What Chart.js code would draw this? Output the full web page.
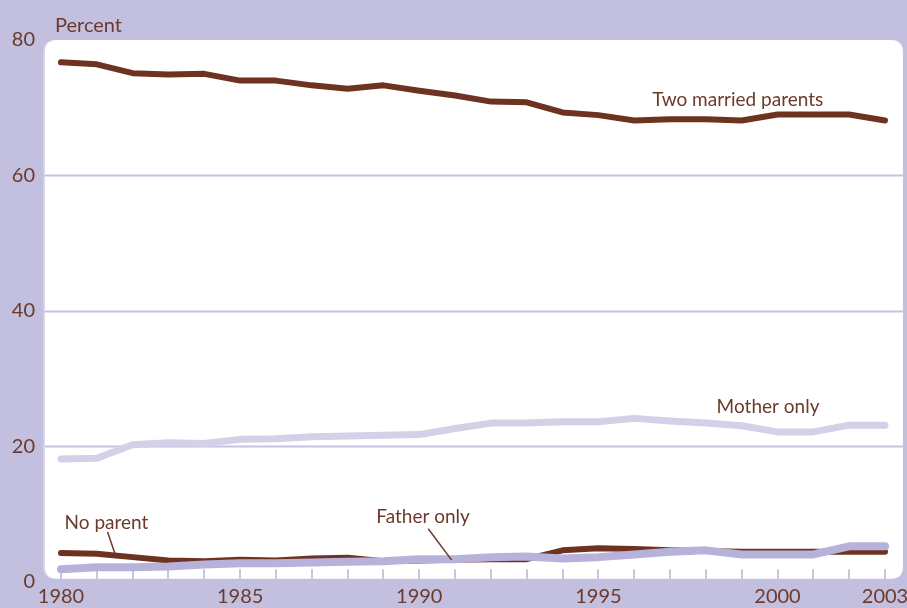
<!DOCTYPE html>
<html>
<head>
<meta charset="utf-8">
<script src="https://cdn.jsdelivr.net/npm/chart.js@4.4.1/dist/chart.umd.min.js"></script>
<style>
  html, body { margin: 0; padding: 0; background: #c3bfdf; }
  #wrap { width: 907px; height: 608px; position: relative; }
</style>
</head>
<body>
<div id="wrap"><canvas id="c" width="907" height="608"></canvas></div>
<script>
const years = [1980,1981,1982,1983,1984,1985,1986,1987,1988,1989,1990,1991,1992,1993,1994,1995,1996,1997,1998,1999,2000,2001,2002,2003];
const twoMarriedParents = [76.7,76.4,75.1,74.9,75.0,74.0,74.0,73.3,72.8,73.3,72.5,71.8,70.9,70.8,69.3,68.9,68.1,68.3,68.3,68.1,69.0,69.0,69.0,68.1];
const motherOnly = [18.1,18.2,20.2,20.5,20.4,21.0,21.1,21.4,21.5,21.6,21.7,22.6,23.4,23.4,23.6,23.6,24.1,23.7,23.4,23.0,22.1,22.1,23.1,23.1];
const fatherOnly = [1.8,2.1,2.1,2.2,2.5,2.7,2.7,2.8,2.9,3.0,3.3,3.3,3.6,3.7,3.4,3.6,4.0,4.4,4.6,4.0,4.0,4.0,5.2,5.2];
const noParent = [4.2,4.1,3.6,3.1,3.0,3.2,3.1,3.4,3.5,3.0,3.1,3.2,3.3,3.3,4.6,4.9,4.8,4.6,4.5,4.4,4.4,4.4,4.4,4.4];
const yTicks = [0,20,40,60,80];
const xTickLabels = [1980,1985,1990,1995,2000,2003];

const BROWN = '#6e3320';
const TEXT = '#6b3a2c';
const BG = '#c3bfdf';
const GRID = '#c6c2e2';
const FATHER = '#b7b2da';
const MOTHER = '#d4d0e8';
const FONT = 'Lato, "Open Sans", sans-serif';

const pts = arr => arr.map((v, i) => ({x: years[i], y: v}));

function roundRect(ctx, x, y, w, h, r) {
  ctx.beginPath();
  ctx.moveTo(x + r, y);
  ctx.lineTo(x + w - r, y);
  ctx.quadraticCurveTo(x + w, y, x + w, y + r);
  ctx.lineTo(x + w, y + h - r);
  ctx.quadraticCurveTo(x + w, y + h, x + w - r, y + h);
  ctx.lineTo(x + r, y + h);
  ctx.quadraticCurveTo(x, y + h, x, y + h - r);
  ctx.lineTo(x, y + r);
  ctx.quadraticCurveTo(x, y, x + r, y);
  ctx.closePath();
}

const panelPlugin = {
  id: 'panel',
  beforeDraw(chart) {
    const ctx = chart.ctx;
    const xs = chart.scales.x, ys = chart.scales.y;
    ctx.save();
    ctx.fillStyle = BG;
    ctx.fillRect(0, 0, chart.width, chart.height);
    const left = xs.getPixelForValue(1979.55);
    const right = xs.getPixelForValue(2003.5);
    const top = ys.getPixelForValue(80);
    const bottom = ys.getPixelForValue(0.4);
    ctx.fillStyle = '#d3cfea';
    roundRect(ctx, left - 2, top, right - left + 2, bottom - top, 12);
    ctx.fill();
    ctx.fillStyle = '#ffffff';
    roundRect(ctx, left, top, right - left, bottom - top, 12);
    ctx.fill();
    ctx.strokeStyle = GRID;
    ctx.lineWidth = 2;
    [20, 40, 60].forEach(v => {
      const y = Math.round(ys.getPixelForValue(v)) + 0.5;
      ctx.beginPath();
      ctx.moveTo(left, y);
      ctx.lineTo(right, y);
      ctx.stroke();
    });
    ctx.strokeStyle = '#c8c4e3';
    ctx.lineWidth = 2;
    years.forEach(yr => {
      const x = Math.round(xs.getPixelForValue(yr));
      ctx.beginPath();
      ctx.moveTo(x, ys.getPixelForValue(1.8));
      ctx.lineTo(x, bottom);
      ctx.stroke();
    });
    ctx.restore();
  },
  afterDraw(chart) {
    const ctx = chart.ctx;
    const xs = chart.scales.x, ys = chart.scales.y;
    ctx.save();
    ctx.fillStyle = TEXT;
    ctx.textBaseline = 'alphabetic';
    ctx.textAlign = 'left';
    ctx.font = '20px ' + FONT;
    ctx.fillText('Percent', 55, 32);
    ctx.font = '19px ' + FONT;
    ctx.fillText('Two married parents', xs.getPixelForValue(1996.5), ys.getPixelForValue(70.3));
    ctx.fillText('Mother only', xs.getPixelForValue(1998.3), ys.getPixelForValue(24.9));
    ctx.fillText('No parent', xs.getPixelForValue(1980.1), ys.getPixelForValue(7.8));
    ctx.fillText('Father only', xs.getPixelForValue(1988.8), ys.getPixelForValue(8.6));
    ctx.strokeStyle = TEXT;
    ctx.lineWidth = 1.5;
    ctx.beginPath();
    ctx.moveTo(xs.getPixelForValue(1981.3), ys.getPixelForValue(7.3));
    ctx.lineTo(xs.getPixelForValue(1981.5), ys.getPixelForValue(4.2));
    ctx.stroke();
    ctx.beginPath();
    ctx.moveTo(xs.getPixelForValue(1990.25), ys.getPixelForValue(7.8));
    ctx.lineTo(xs.getPixelForValue(1990.9), ys.getPixelForValue(3.2));
    ctx.stroke();
    ctx.restore();
  }
};

const ds = (label, data, color, width) => ({
  label, data: pts(data), borderColor: color, backgroundColor: color,
  borderWidth: width, pointRadius: 0, tension: 0, fill: false,
  borderCapStyle: 'round', borderJoinStyle: 'round'
});

new Chart(document.getElementById('c'), {
  type: 'line',
  data: {
    datasets: [
      ds('Two married parents', twoMarriedParents, BROWN, 6),
      ds('Mother only', motherOnly, MOTHER, 7),
      ds('Father only', fatherOnly, FATHER, 8),
      ds('No parent', noParent, BROWN, 6)
    ].map((d, i) => Object.assign(d, {order: [0, 1, 0, 2][i]}))
  },
  options: {
    responsive: false,
    animation: false,
    events: [],
    clip: false,
    layout: { autoPadding: false, padding: { top: 40, right: 22, left: 0, bottom: 0 } },
    plugins: { legend: { display: false }, tooltip: { enabled: false } },
    scales: {
      x: {
        type: 'linear', min: 1980, max: 2003,
        grid: { display: false, drawTicks: false },
        border: { display: false },
        afterBuildTicks: s => { s.ticks = xTickLabels.map(v => ({value: v})); },
        afterFit: s => { s.height = 26.5; s.paddingRight = 0; s.paddingLeft = 0; },
        ticks: {
          autoSkip: false, maxRotation: 0, padding: 3,
          color: TEXT, font: { family: FONT, size: 20 },
          callback: v => String(v)
        }
      },
      y: {
        min: 0, max: 80,
        grid: { display: false, drawTicks: true, tickLength: 24 },
        border: { display: false },
        afterBuildTicks: s => { s.ticks = yTicks.map(v => ({value: v})); },
        afterFit: s => { s.width = 61; },
        ticks: {
          padding: 2, color: TEXT, font: { family: FONT, size: 20 },
          callback: v => String(v)
        }
      }
    }
  },
  plugins: [panelPlugin]
});
</script>
</body>
</html>
